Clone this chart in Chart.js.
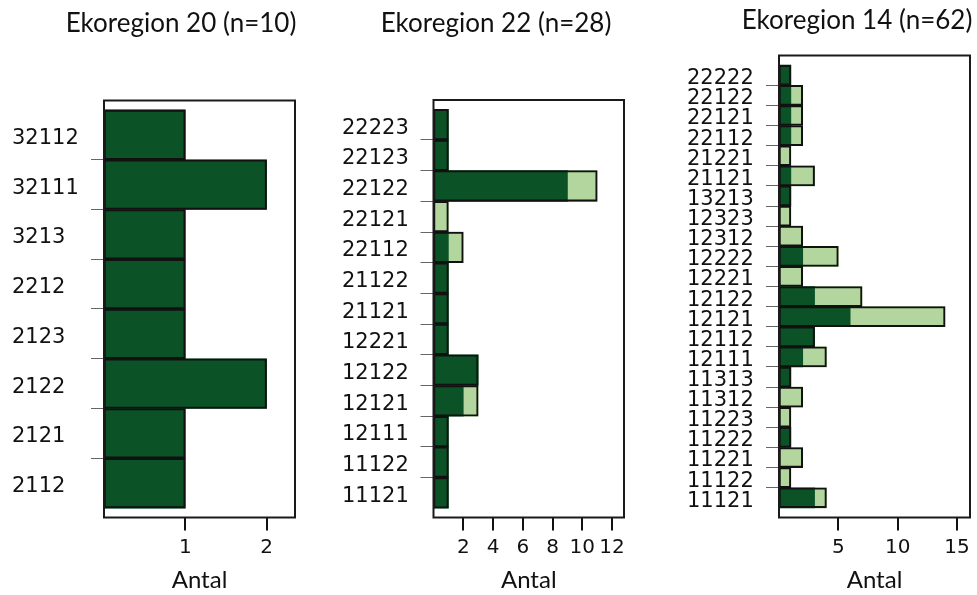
<!DOCTYPE html>
<html>
<head>
<meta charset="utf-8">
<script src="https://cdn.jsdelivr.net/npm/chart.js@4/dist/chart.umd.min.js"></script>
<style>
  html, body { margin: 0; padding: 0; background: #fff; }
  #wrap { position: relative; width: 977px; height: 595px; }
  #wrap canvas { position: absolute; left: 0; top: 0; }
</style>
</head>
<body>
<div id="wrap">
  <canvas id="c20" width="977" height="595"></canvas>
  <canvas id="c22" width="977" height="595"></canvas>
  <canvas id="c14" width="977" height="595"></canvas>
</div>
<script>
// Ekoregion 20
const cats20  = ['32112', '32111', '3213', '2212', '2123', '2122', '2121', '2112'];
const dark20  = [1, 2, 1, 1, 1, 2, 1, 1];
const light20 = [0, 0, 0, 0, 0, 0, 0, 0];
const ticks20 = [1, 2];

// Ekoregion 22
const cats22  = ['22223', '22123', '22122', '22121', '22112', '21122', '21121',
                 '12221', '12122', '12121', '12111', '11122', '11121'];
const dark22  = [1, 1, 9, 0, 1, 1, 1, 1, 3, 2, 1, 1, 1];
const light22 = [0, 0, 2, 1, 1, 0, 0, 0, 0, 1, 0, 0, 0];
const ticks22 = [2, 4, 6, 8, 10, 12];

// Ekoregion 14
const cats14  = ['22222', '22122', '22121', '22112', '21221', '21121', '13213', '12323',
                 '12312', '12222', '12221', '12122', '12121', '12112', '12111', '11313',
                 '11312', '11223', '11222', '11221', '11122', '11121'];
const dark14  = [1, 1, 1, 1, 0, 1, 1, 0, 0, 2, 0, 3, 6, 3, 2, 1, 0, 0, 1, 0, 0, 3];
const light14 = [0, 1, 1, 1, 1, 2, 0, 1, 2, 3, 2, 4, 8, 0, 2, 0, 2, 1, 0, 2, 1, 1];
const ticks14 = [5, 10, 15];

const DARK = '#0b5226';
const LIGHT = '#b3d69f';
const INK = '#111';
const W = 977, H = 595;

// Box around the plotting region
const framePlugin = {
  id: 'frame',
  afterDatasetsDraw(chart) {
    const { ctx, chartArea: a } = chart;
    ctx.save();
    ctx.strokeStyle = '#1a1a1a';
    ctx.lineWidth = 2;
    ctx.strokeRect(a.left, a.top, a.right - a.left, a.bottom - a.top);
    ctx.restore();
  }
};

// Panel heading
const headingPlugin = {
  id: 'heading',
  afterDraw(chart, args, opts) {
    const ctx = chart.ctx;
    ctx.save();
    ctx.font = '26px Lato';
    ctx.fillStyle = INK;
    ctx.textAlign = 'center';
    ctx.textBaseline = 'alphabetic';
    ctx.fillText(opts.text, opts.x, opts.y);
    ctx.restore();
  }
};

function panel(id, p) {
  const n = p.cats.length;
  const total = p.dark.map((d, i) => d + p.light[i]);
  return new Chart(document.getElementById(id), {
    type: 'bar',
    data: {
      datasets: [
        { label: 'total', order: 0, grouped: false,
          data: p.cats.map((c, i) => ({ x: total[i], y: i })),
          backgroundColor: 'rgba(0,0,0,0)', borderColor: INK,
          borderWidth: 1.4, borderSkipped: false },
        { label: 'dark', order: 1, grouped: false,
          data: p.cats.map((c, i) => ({ x: p.dark[i], y: i })),
          backgroundColor: DARK, borderWidth: 0 },
        { label: 'light', order: 2, grouped: false,
          data: p.cats.map((c, i) => ({ x: [p.dark[i], total[i]], y: i })),
          backgroundColor: LIGHT, borderWidth: 0 }
      ]
    },
    options: {
      indexAxis: 'y',
      responsive: false,
      animation: false,
      devicePixelRatio: 1,
      barPercentage: 1,
      categoryPercentage: 1,
      layout: { padding: { left: p.labelLeft, right: W - p.box.right, top: p.box.top, bottom: 0 } },
      plugins: {
        legend: { display: false },
        tooltip: { enabled: false },
        title: { display: false },
        heading: p.heading
      },
      scales: {
        x: {
          type: 'linear', min: 0, max: p.xMax,
          afterBuildTicks: s => { s.ticks = p.ticks.map(v => ({ value: v })); },
          afterFit: s => { s.height = H - p.box.bottom; },
          grid: { drawOnChartArea: false, drawTicks: true, tickLength: 13, color: INK, lineWidth: 2 },
          border: { display: false },
          ticks: { font: { family: 'DejaVu Sans', size: 20 }, color: INK, padding: 5,
                   maxRotation: 0, autoSkip: false },
          title: { display: true, text: 'Antal', color: INK,
                   font: { family: 'Lato', size: 24 }, padding: { top: 0, bottom: 0 } }
        },
        y: {
          type: 'linear', reverse: true, offset: false,
          min: -0.5 - p.yPad, max: n - 0.5 + p.yPad,
          afterBuildTicks: s => { s.ticks = p.cats.map((c, i) => ({ value: i })); },
          afterFit: s => { s.width = p.box.left - p.labelLeft; },
          grid: {
            offset: true, drawOnChartArea: false, drawTicks: true, tickLength: 13, lineWidth: 1,
            color: ctx => (ctx.type === 'tick' && ctx.index > 0) ? '#666' : 'rgba(0,0,0,0)'
          },
          border: { display: false },
          ticks: {
            autoSkip: false, crossAlign: 'far', padding: 10, color: INK, labelOffset: 3.5,
            font: { family: 'DejaVu Sans', size: 21 },
            callback: (v, i) => p.cats[i]
          }
        }
      }
    },
    plugins: [framePlugin, headingPlugin]
  });
}

panel('c20', {
  cats: cats20, dark: dark20, light: light20, ticks: ticks20,
  xMax: 2.35, yPad: 0.19, labelLeft: 12,
  box: { left: 104, right: 295, top: 100.5, bottom: 517.5 },
  heading: { text: 'Ekoregion 20 (n=10)', x: 181, y: 32 }
});
panel('c22', {
  cats: cats22, dark: dark22, light: light22, ticks: ticks22,
  xMax: 12.8, yPad: 0.30, labelLeft: 342,
  box: { left: 433.5, right: 624, top: 100, bottom: 517.5 },
  heading: { text: 'Ekoregion 22 (n=28)', x: 496, y: 32 }
});
panel('c14', {
  cats: cats14, dark: dark14, light: light14, ticks: ticks14,
  xMax: 16.1, yPad: 0.48, labelLeft: 687,
  box: { left: 779, right: 970, top: 55.5, bottom: 517.5 },
  heading: { text: 'Ekoregion 14 (n=62)', x: 857, y: 29 }
});
</script>
</body>
</html>
